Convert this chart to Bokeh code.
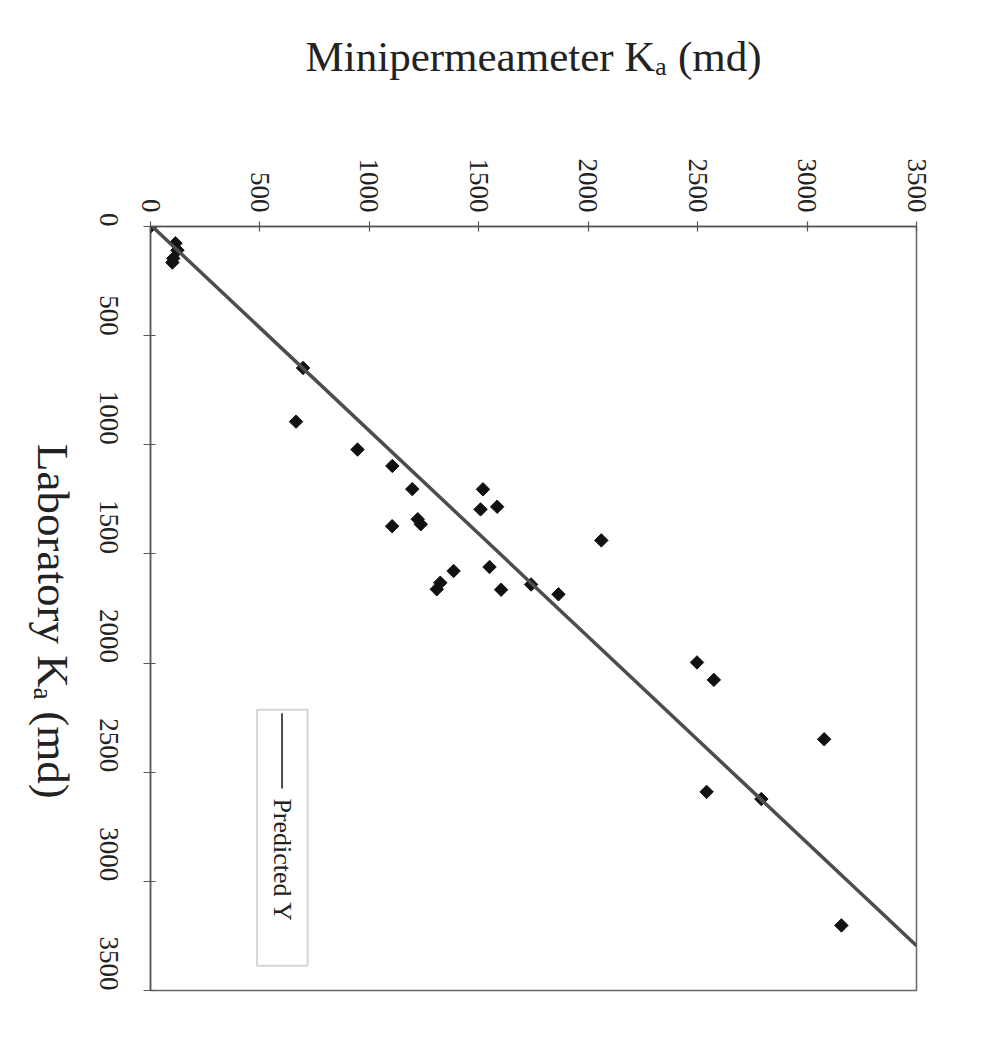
import math
from bokeh.plotting import figure
from bokeh.layouts import row
from bokeh.models import Range1d, FixedTicker, BoxAnnotation, Label, ColumnDataSource
from bokeh.core.properties import value
from bokeh.embed import file_html
from bokeh.resources import INLINE

# ---- data ----
lab_ka = [0, 77, 109, 146, 165, 648, 894, 1022, 1097, 1203, 1373, 1341, 1364,
          1204, 1296, 1284, 1438, 1560, 1578, 1632, 1662, 1664, 1640, 1685,
          1997, 2077, 2349, 2590, 2623, 3202]
mini_ka = [0, 114, 123, 104, 100, 697, 665, 946, 1105, 1196, 1104, 1221, 1235,
           1519, 1508, 1584, 2060, 1549, 1385, 1324, 1308, 1602, 1739, 1864,
           2497, 2574, 3078, 2541, 2791, 3157]
pred_lab = [0, 3295]
pred_mini = [8, 3500]
tick_values = [0, 500, 1000, 1500, 2000, 2500, 3000, 3500]
x_title = "Minipermeameter Kₐ (md)"
y_title = "Laboratory Kₐ (md)"
legend_text = "Predicted Y"

# ---- layout constants ----
TOTAL_W, TOTAL_H = 973, 1037
TITLE_W = 80                       # strip on the left holding the rotated title
YTITLE_X, YTITLE_Y = 52, 536       # title anchor inside that strip (px)
# legend placement (axis units)
LEG_LEFT, LEG_RIGHT, LEG_TOP, LEG_BOTTOM = 487, 718, 2214, 3387
LEG_LINE_X, LEG_LINE_Y0, LEG_LINE_Y1, LEG_TEXT_Y = 601, 2230, 2575, 2620

FONT = "Liberation Serif"

# ---- strip with the left (rotated) title ----
t = figure(width=TITLE_W, height=TOTAL_H,
           x_range=Range1d(0, TITLE_W), y_range=Range1d(TOTAL_H, 0),
           x_axis_location=None, y_axis_location=None,
           output_backend="svg", toolbar_location=None, min_border=0)
t.xgrid.visible = False
t.ygrid.visible = False
t.outline_line_color = None
t.background_fill_color = "white"
t.border_fill_color = "white"
t.text(x=[YTITLE_X], y=[YTITLE_Y], text=[y_title], angle=-math.pi / 2,
       text_align="center", text_baseline="middle",
       text_font=value(FONT), text_font_size="45px", text_color="#222222")

# ---- main chart ----
p = figure(width=TOTAL_W - TITLE_W, height=TOTAL_H,
           x_range=Range1d(0, 3500), y_range=Range1d(3500, 0),
           x_axis_location="above", y_axis_location="left",
           output_backend="svg", toolbar_location=None,
           min_border_left=150 - TITLE_W, min_border_right=57,
           min_border_top=226, min_border_bottom=47)
p.xgrid.visible = False
p.ygrid.visible = False
p.background_fill_color = "white"
p.border_fill_color = "white"
p.outline_line_color = "#666666"
p.outline_line_width = 1.5

for ax in (p.xaxis[0], p.yaxis[0]):
    ax.ticker = FixedTicker(ticks=tick_values)
    ax.major_label_orientation = -math.pi / 2
    ax.major_label_text_font = FONT
    ax.major_label_text_font_size = "27px"
    ax.major_label_text_color = "#222222"
    ax.axis_label_text_font = FONT
    ax.axis_label_text_font_size = "43px"
    ax.axis_label_text_font_style = "normal"
    ax.axis_label_text_color = "#222222"
    ax.minor_tick_line_color = None
    ax.axis_line_color = "#555555"
    ax.axis_line_width = 1.5
    ax.major_tick_line_color = "#555555"
    ax.major_tick_line_width = 1.2

xa = p.xaxis[0]
xa.axis_label = x_title
xa.major_tick_in = 5
xa.major_tick_out = 5
xa.major_label_standoff = 9
xa.axis_label_standoff = 76

ya = p.yaxis[0]
ya.major_tick_in = 5
ya.major_tick_out = 7
ya.major_label_standoff = 35

src = ColumnDataSource(data=dict(mini=mini_ka, lab=lab_ka))
p.scatter(x="mini", y="lab", source=src, marker="square", size=9.5,
          angle=math.pi / 4, fill_color="#111111", line_color="#111111")
p.line(pred_mini, pred_lab, line_color="#4d4d4d", line_width=3.5)

# legend (drawn rotated, like the rest of the chart)
p.add_layout(BoxAnnotation(left=LEG_LEFT, right=LEG_RIGHT, top=LEG_TOP, bottom=LEG_BOTTOM,
                           fill_color="white", fill_alpha=1.0, level="underlay",
                           line_color="#777777", line_width=2))
p.segment(x0=[LEG_LINE_X], y0=[LEG_LINE_Y0], x1=[LEG_LINE_X], y1=[LEG_LINE_Y1],
          line_color="#4d4d4d", line_width=2)
p.add_layout(Label(x=LEG_LINE_X, y=LEG_TEXT_Y, text=legend_text, angle=-math.pi / 2,
                   text_align="left", text_baseline="middle",
                   text_font=FONT, text_font_size="26px", text_color="#222222"))

layout = row(t, p, spacing=0)
open("out.html", "w").write(file_html(layout, INLINE))
